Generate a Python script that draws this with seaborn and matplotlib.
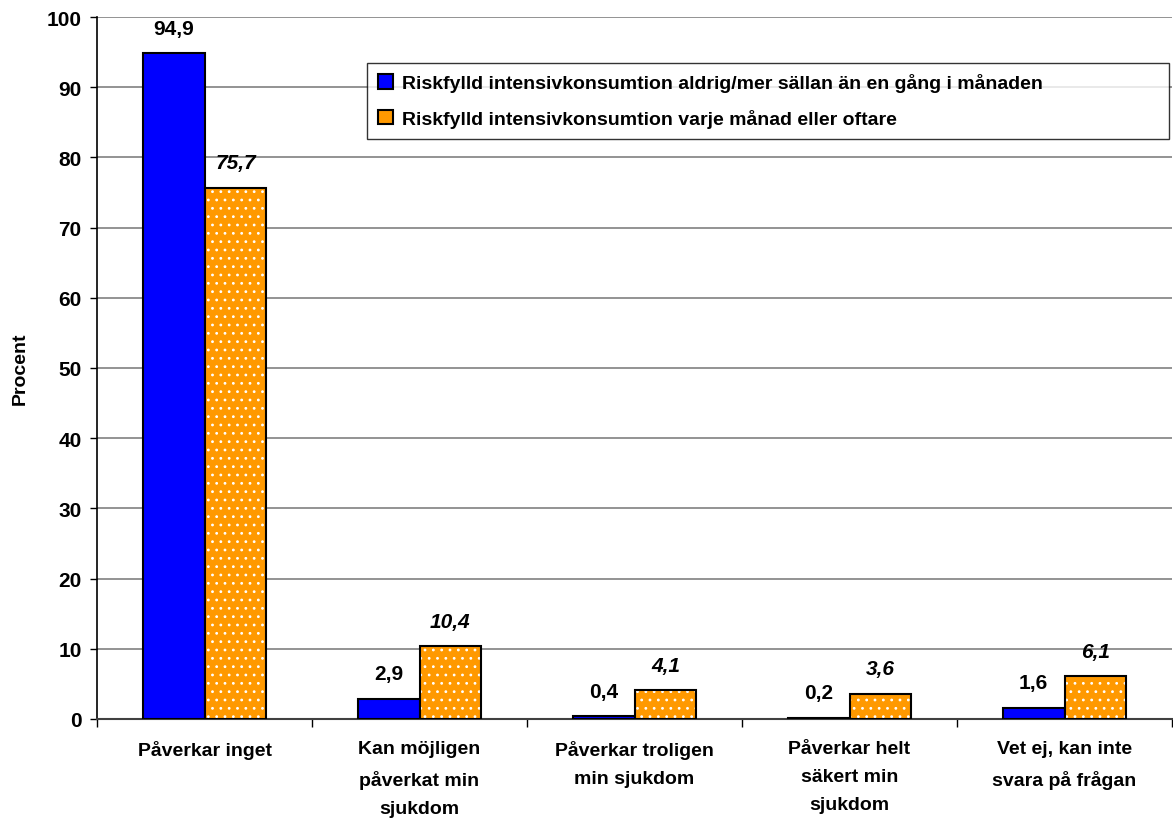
import pandas as pd
import numpy as np
import matplotlib
matplotlib.use('Agg')
import matplotlib.pyplot as plt
import seaborn as sns

categories = ['Påverkar inget', 'Kan möjligen\npåverkat min\nsjukdom', 'Påverkar troligen\nmin sjukdom',
              'Påverkar helt\nsäkert min\nsjukdom', 'Vet ej, kan inte\nsvara på frågan']
series = ['Riskfylld intensivkonsumtion aldrig/mer sällan än en gång i månaden',
          'Riskfylld intensivkonsumtion varje månad eller oftare']
rare = [94.9, 2.9, 0.4, 0.2, 1.6]
monthly = [75.7, 10.4, 4.1, 3.6, 6.1]
yticks = list(range(0, 101, 10))

df = pd.DataFrame({
    'cat': categories * 2,
    'serie': [series[0]] * 5 + [series[1]] * 5,
    'val': rare + monthly,
})

sns.set_style('white')
plt.rcParams['font.family'] = ['Liberation Sans', 'DejaVu Sans']
plt.rcParams['font.weight'] = 'bold'
plt.rcParams['hatch.linewidth'] = 0.8
for k in ['text.color', 'axes.labelcolor', 'xtick.color', 'ytick.color']:
    plt.rcParams[k] = 'black'

fig = plt.figure(figsize=(11.73, 8.2), dpi=100)
ax = fig.add_axes([0.0827, 0.122, 0.9165, 0.856])

sns.barplot(data=df, x='cat', y='val', hue='serie', order=categories, hue_order=series,
            palette=['#0000ff', '#ff9900'], width=0.575, saturation=1, ax=ax,
            edgecolor='black', linewidth=1.5, zorder=3)

# orange bars: small white dots
for p in ax.containers[1]:
    p.set_hatch('..')
    p._hatch_color = (1, 1, 1, 1)

# value labels
ax.bar_label(ax.containers[0], labels=[f'{v:.1f}'.replace('.', ',') for v in rare],
             padding=11, fontsize=15, fontweight='bold')
ax.bar_label(ax.containers[1], labels=[f'{v:.1f}'.replace('.', ',') for v in monthly],
             padding=11, fontsize=15, fontweight='bold', fontstyle='italic')

ax.set_ylim(0, 100)
ax.set_xlim(-0.5, 4.5)
ax.set_yticks(yticks)
ax.set_yticklabels([str(t) for t in yticks], fontsize=15, fontweight='bold')
ax.yaxis.grid(True, color='#808080', linewidth=1.2, zorder=0)
ax.set_axisbelow(True)
ax.tick_params(axis='y', left=True, length=5, width=1, color='black', pad=6)
ax.set_xticks(range(5))
ax.set_xticklabels(categories, fontsize=14, fontweight='bold', linespacing=1.85)
ax.set_xticks(np.arange(-0.5, 5, 1), minor=True)
ax.tick_params(axis='x', which='major', length=0, pad=15)
ax.tick_params(axis='x', which='minor', length=6, width=1, color='black', bottom=True)
ax.set_xlabel('')
ax.set_ylabel('Procent', fontsize=14, fontweight='bold', labelpad=13)

for s in ['top', 'right']:
    ax.spines[s].set_visible(False)
ax.spines['left'].set_color('black')
ax.spines['bottom'].set_color('#404040')
ax.spines['left'].set_linewidth(1.2)
ax.spines['bottom'].set_linewidth(1.5)

leg = ax.legend(loc='upper left', bbox_to_anchor=(0.2515, 0.935, 0.746, 0.0), mode='expand',
                fontsize=14, frameon=True, fancybox=False, edgecolor='black', handlelength=0.75,
                handleheight=0.75, handletextpad=0.5, borderpad=0.55, labelspacing=0.85,
                borderaxespad=0)
leg.get_frame().set_linewidth(1.0)
for h in leg.legend_handles:
    h.set_hatch(None)
    h.set_linewidth(1.5)

fig.savefig('out.png', dpi=100)
